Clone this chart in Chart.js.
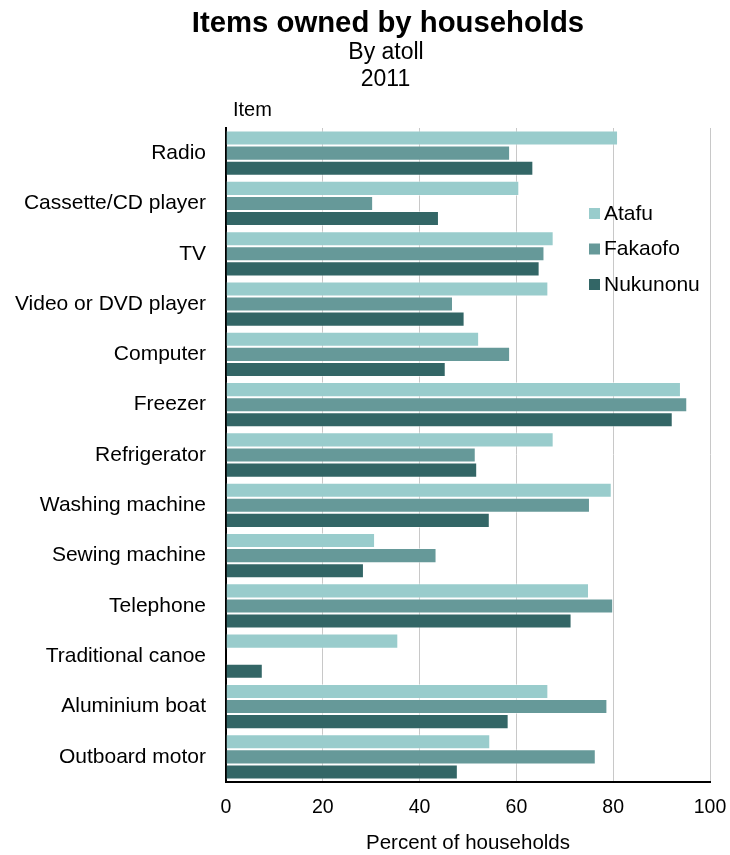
<!DOCTYPE html>
<html>
<head>
<meta charset="utf-8">
<script src="https://cdn.jsdelivr.net/npm/chart.js@4/dist/chart.umd.min.js"></script>
<style>
  html, body { margin: 0; padding: 0; background: #fff; }
</style>
</head>
<body>
<canvas id="chart" width="730" height="855"></canvas>
<script>
// Household ownership of items by atoll, 2011 (percent of households)
const items = [
  'Radio', 'Cassette/CD player', 'TV', 'Video or DVD player', 'Computer',
  'Freezer', 'Refrigerator', 'Washing machine', 'Sewing machine',
  'Telephone', 'Traditional canoe', 'Aluminium boat', 'Outboard motor'
];
const atafu    = [81.0, 60.6, 67.7, 66.6, 52.3, 94.0, 67.7, 79.7, 30.8, 75.0, 35.6, 66.6, 54.6];
const fakaofo  = [58.7, 30.4, 65.8, 46.9, 58.7, 95.3, 51.6, 75.2, 43.5, 80.0,  0.0, 78.8, 76.4];
const nukunonu = [63.5, 44.0, 64.8, 49.3, 45.4, 92.3, 51.9, 54.5, 28.5, 71.4,  7.6, 58.4, 47.9];
const xTicks   = [0, 20, 40, 60, 80, 100];

const titleText = 'Items owned by households';
const subtitleLines = ['By atoll', '2011'];
const yAxisCaption = 'Item';

const FONT = "'Liberation Sans', Arial, Helvetica, sans-serif";
Chart.defaults.font.family = FONT;
Chart.defaults.color = '#000';

// Headings, the "Item" caption and a vertical legend inside the plot area
const extras = {
  id: 'extras',
  afterDraw(chart) {
    const ctx = chart.ctx;
    ctx.save();
    ctx.fillStyle = '#000';
    ctx.textBaseline = 'alphabetic';

    ctx.textAlign = 'center';
    ctx.font = 'bold 29.3px ' + FONT;
    ctx.fillText(titleText, 388, 31.7);
    ctx.font = '23px ' + FONT;
    ctx.fillText(subtitleLines[0], 386, 59.3);
    ctx.fillText(subtitleLines[1], 385.5, 86);

    ctx.textAlign = 'left';
    ctx.textBaseline = 'middle';
    ctx.font = '20px ' + FONT;
    ctx.fillText(yAxisCaption, 233, 110);

    const rows = [214, 249.5, 285];
    ctx.font = '21px ' + FONT;
    chart.data.datasets.forEach((ds, i) => {
      const y = rows[i];
      ctx.fillStyle = ds.backgroundColor;
      ctx.fillRect(589, y - 6, 11, 11);
      ctx.fillStyle = '#000';
      ctx.fillText(ds.label, 604, y);
    });
    ctx.restore();
  }
};

const edge = 'rgba(255,255,255,0.45)';

new Chart(document.getElementById('chart'), {
  type: 'bar',
  data: {
    labels: items,
    datasets: [
      { label: 'Atafu',    data: atafu,    backgroundColor: '#99CCCC', borderColor: edge, borderWidth: 1 },
      { label: 'Fakaofo',  data: fakaofo,  backgroundColor: '#669999', borderColor: edge, borderWidth: 1 },
      { label: 'Nukunonu', data: nukunonu, backgroundColor: '#336666', borderColor: edge, borderWidth: 1 }
    ]
  },
  options: {
    indexAxis: 'y',
    responsive: false,
    animation: false,
    devicePixelRatio: 1,
    layout: { padding: { left: 0, right: 20, top: 128, bottom: 0 } },
    datasets: { bar: { categoryPercentage: 0.9, barPercentage: 1.0 } },
    plugins: {
      legend: { display: false },
      tooltip: { enabled: false },
      title: { display: false }
    },
    scales: {
      y: {
        grid: { display: false, drawTicks: false },
        border: { display: true, color: '#000', width: 2 },
        ticks: { font: { size: 21 }, color: '#000', padding: 20, autoSkip: false },
        afterFit(scale) { scale.width = 226; }
      },
      x: {
        min: 0,
        max: 100,
        afterBuildTicks(scale) { scale.ticks = xTicks.map(v => ({ value: v })); },
        grid: { color: '#c8c8c8', lineWidth: 1, drawTicks: false },
        border: { display: true, color: '#000', width: 2 },
        ticks: { font: { size: 19.5 }, color: '#000', padding: 14, maxRotation: 0 },
        title: {
          display: true,
          text: 'Percent of households',
          color: '#000',
          font: { size: 20.5, lineHeight: 1 },
          padding: { top: 6, bottom: 1 }
        },
        afterFit(scale) {
          scale.height = 73;
          scale.paddingRight = 0;
        }
      }
    }
  },
  plugins: [extras]
});
</script>
</body>
</html>
